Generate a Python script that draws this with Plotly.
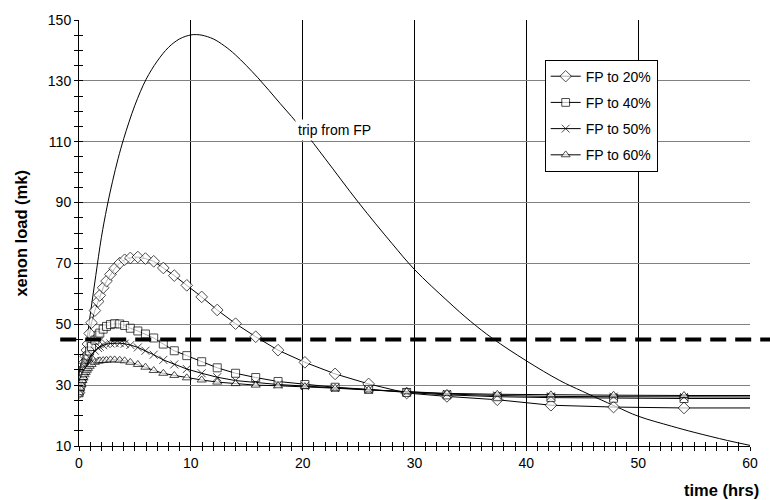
import plotly.graph_objects as go

# ---- data ----
times = [0, 0.1, 0.2, 0.3, 0.4, 0.5, 0.6, 0.7, 0.8, 0.95,
         1.12, 1.42, 1.71, 1.86, 2.16, 2.46, 2.81, 3.19, 3.64, 4.08,
         4.59, 5.26, 5.94, 6.68, 7.54, 8.52, 9.64, 10.97, 12.36, 14.0,
         15.8, 17.8, 20.2, 22.9, 25.9, 29.3, 32.9, 37.4, 42.2, 47.8, 54.1, 60.5]

fp20 = [27.5, 29.5, 31.5, 33.5, 35.5, 37.5, 39.5, 41.5, 43.5, 47.0,
        50.5, 54.5, 57.5, 59.5, 62.0, 64.2, 66.4, 68.3, 70.1, 71.2,
        71.8, 72.1, 71.6, 70.7, 68.5, 66.0, 62.8, 59.0, 54.7, 50.2,
        45.9, 41.5, 37.5, 33.7, 30.4, 27.4, 26.3, 25.2, 23.4, 22.8, 22.5, 22.5]
fp40 = [27.5, 29.5, 31.3, 33.0, 34.6, 36.0, 37.3, 38.5, 39.6, 41.2,
        42.7, 44.8, 46.4, 47.1, 48.4, 49.3, 49.9, 50.2, 50.1, 49.6,
        48.7, 47.8, 46.8, 45.5, 43.5, 41.3, 39.7, 37.7, 35.7, 33.9,
        32.5, 31.2, 30.2, 29.3, 28.6, 27.6, 26.8, 26.2, 25.9, 25.7, 25.6, 25.6]
fp50 = [27.5, 29.2, 30.8, 32.2, 33.5, 34.7, 35.8, 36.8, 37.7, 38.9,
        40.0, 41.3, 42.2, 42.6, 43.1, 43.5, 43.7, 43.8, 43.8, 43.6,
        43.2, 42.4, 41.3, 40.0, 38.3, 36.8, 35.3, 33.9, 32.6, 31.5,
        30.8, 30.2, 29.7, 29.1, 28.5, 27.7, 27.1, 26.6, 26.3, 26.2, 26.1, 26.1]
fp60 = [27.5, 29.0, 30.3, 31.5, 32.5, 33.4, 34.2, 34.9, 35.5, 36.2,
        36.8, 37.5, 37.9, 38.0, 38.1, 38.2, 38.3, 38.3, 38.2, 38.0,
        37.5, 36.8, 35.9, 34.8, 33.9, 33.2, 32.4, 31.7, 31.0, 30.5,
        30.0, 29.8, 29.5, 29.0, 28.4, 27.8, 27.3, 27.0, 26.8, 26.7, 26.6, 26.6]

trip_t = [0, 0.5, 1, 1.5, 2, 2.5, 3, 3.5, 4, 5, 6, 7, 8, 9, 10, 10.5, 11, 12, 13, 14,
          16, 18, 20, 22, 25, 28, 30, 33, 35, 37, 40, 43, 45, 48, 50, 53, 55, 58, 60]
trip_v = [27.5, 39, 53, 66, 78.5, 88.5, 97, 104.5, 111, 122, 130.5, 136.5, 141, 143.8,
          145.1, 145.2, 145.0, 143.8, 141.5, 138.5, 131, 122.5, 114, 104.5, 90, 76.5,
          68, 57.5, 51, 45.3, 38, 31.5, 28, 23, 19.8, 16.5, 14.5, 11.8, 10.2]

series_names = ["FP to 20%", "FP to 40%", "FP to 50%", "FP to 60%"]
limit_value = 45
x_ticks_major = [0, 10, 20, 30, 40, 50, 60]
y_ticks_major = [10, 30, 50, 70, 90, 110, 130, 150]

FONT = "Arial, Liberation Sans, sans-serif"

fig = go.Figure()

fig.add_trace(go.Scatter(x=trip_t, y=trip_v, mode="lines",
                         line=dict(color="black", width=1, shape="spline"),
                         showlegend=False, hoverinfo="skip"))

symbols = ["diamond", "square", "x-thin", "triangle-up"]
base_sizes = [9, 8, 8, 8]
fills = ["white", "white", "black", "white"]
for name, vals, sym, sz, fc in zip(series_names, [fp20, fp40, fp50, fp60],
                                   symbols, base_sizes, fills):
    sizes = [sz] * (len(times) - 1) + [0]
    fig.add_trace(go.Scatter(x=times, y=vals, name=name, mode="lines+markers",
                             line=dict(color="black", width=1),
                             marker=dict(symbol=sym, size=sizes, color=fc,
                                         line=dict(color="black", width=1)),
                             legendgroup=name))

# dummy trace for the overlay axes (inside ticks => crossing ticks)
fig.add_trace(go.Scatter(x=[None], y=[None], xaxis="x2", yaxis="y2",
                         showlegend=False, hoverinfo="skip"))

fig.add_shape(type="line", xref="paper", yref="y", x0=-0.028, x1=1.03,
              y0=limit_value, y1=limit_value, layer="above",
              line=dict(color="black", width=4, dash="16px,9px"))

fig.add_annotation(text="trip from FP", x=19.3, y=114, xref="x", yref="y",
                   xanchor="left", yanchor="middle", showarrow=False,
                   bgcolor="white", borderpad=2,
                   font=dict(family=FONT, size=14, color="black"))
fig.add_annotation(text="<b>time (hrs)</b>", x=1.016, y=-0.103, xref="paper", yref="paper",
                   xanchor="right", yanchor="middle", showarrow=False,
                   font=dict(family=FONT, size=16.5, color="black"))
fig.add_annotation(text="<b>xenon load (mk)</b>", x=-0.087, y=0.5, xref="paper", yref="paper",
                   textangle=-90, xanchor="center", yanchor="middle", showarrow=False,
                   font=dict(family=FONT, size=16.5, color="black"))

fig.update_layout(
    width=770, height=500,
    margin=dict(l=79, r=15, t=17, b=54),
    paper_bgcolor="white", plot_bgcolor="white",
    font=dict(family=FONT, size=14, color="black"),
    xaxis=dict(range=[0, 60], tickvals=x_ticks_major, showgrid=True, gridcolor="black",
               gridwidth=1, showline=True, linecolor="black", linewidth=1,
               ticks="outside", ticklen=4, tickcolor="black", zeroline=False,
               tickfont=dict(size=14),
               minor=dict(dtick=1, tick0=0, ticks="outside", ticklen=4,
                          tickcolor="black", showgrid=False)),
    xaxis2=dict(range=[0, 60], overlaying="x", anchor="y", side="bottom",
                tickvals=x_ticks_major, ticks="inside", ticklen=4, tickcolor="black",
                showticklabels=False, showgrid=False, zeroline=False, showline=False,
                minor=dict(dtick=1, tick0=0, ticks="inside", ticklen=4,
                           tickcolor="black", showgrid=False)),
    yaxis=dict(range=[10, 150], tickvals=y_ticks_major, showgrid=True, gridcolor="#808080",
               gridwidth=1, showline=True, linecolor="black", linewidth=1,
               ticks="outside", ticklen=4, tickcolor="black", zeroline=False,
               tickfont=dict(size=14),
               minor=dict(dtick=5, tick0=10, ticks="outside", ticklen=4,
                          tickcolor="black", showgrid=False)),
    yaxis2=dict(range=[10, 150], overlaying="y", anchor="x", side="left",
                tickvals=y_ticks_major, ticks="inside", ticklen=4, tickcolor="black",
                showticklabels=False, showgrid=False, zeroline=False, showline=False,
                minor=dict(dtick=5, tick0=10, ticks="inside", ticklen=4,
                           tickcolor="black", showgrid=False)),
    legend=dict(x=0.694, y=0.907, xanchor="left", yanchor="top",
                bgcolor="white", bordercolor="black", borderwidth=1,
                font=dict(family=FONT, size=14, color="black"),
                tracegroupgap=5, traceorder="grouped", itemwidth=30),
)

fig.write_html("out.html", config={"displayModeBar": False},
               post_script="document.body.style.margin='0px';")
